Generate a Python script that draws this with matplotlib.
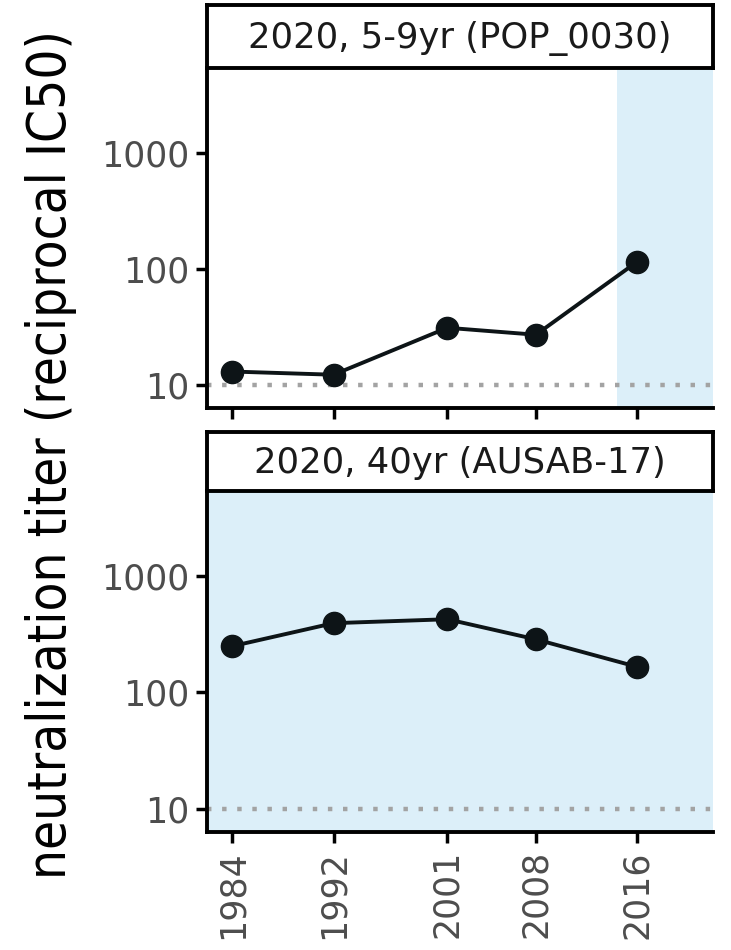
import matplotlib
matplotlib.use("Agg")
import matplotlib.pyplot as plt
from matplotlib import font_manager
from matplotlib.font_manager import FontProperties

# ---- data ----
years = [1984, 1992, 2001, 2008, 2016]
titer_pop0030 = [13, 12.2, 31, 27, 115]
titer_ausab17 = [250, 394, 426, 286, 166]
panel_titles = ["2020, 5-9yr (POP_0030)", "2020, 40yr (AUSAB-17)"]
# shaded x-ranges (years) per panel
shade_ranges = [(2014.4, 2022), (1982, 2022)]
limit_of_detection = 10
y_ticks = [10, 100, 1000]

XLIM = (1982, 2022)
YLIM = (6.3, 5400)
SHADE = "#dceff9"
INK = "#0d1417"


def narrow_font():
    # prefer a narrow/condensed sans for the y label, fall back to DejaVu
    files = [f.fname for f in font_manager.fontManager.ttflist]
    for key in ("LiberationSansNarrow-Regular", "DejaVuSansCondensed.",
                "RobotoCondensed-Regular", "Roboto_Condensed-Regular",
                "OpenSans_Condensed-Regular", "OpenSansCondensed"):
        for fn in files:
            if key in fn.replace(" ", ""):
                return FontProperties(fname=fn)
    return FontProperties(family="DejaVu Sans", stretch="condensed")


fig = plt.figure(figsize=(7.31, 9.5), dpi=100)
L, R = 207 / 731, 713 / 731
panels = [(68, 408, 5), (491, 832, 432)]   # axes top, axes bottom, strip top (px)

for i, ((top, bot, stop), vals) in enumerate(zip(panels, [titer_pop0030, titer_ausab17])):
    ax = fig.add_axes([L, 1 - bot / 950, R - L, (bot - top) / 950])
    sax = fig.add_axes([L, 1 - top / 950, R - L, (top - stop) / 950])

    lo, hi = shade_ranges[i]
    ax.axvspan(lo, hi, color=SHADE, lw=0, zorder=0)
    ax.axhline(limit_of_detection, color="#a3a3a3", lw=3.2,
               linestyle=(0, (1.0, 2.4)), zorder=1)
    ax.plot(years, vals, color=INK, lw=2.8, marker="o", ms=16, zorder=3)

    ax.set_yscale("log")
    ax.set_xlim(*XLIM)
    ax.set_ylim(*YLIM)
    ax.set_yticks(y_ticks)
    ax.set_yticklabels([str(t) for t in y_ticks])
    ax.minorticks_off()
    ax.set_xticks(years)
    if i == 0:
        ax.set_xticklabels([])
        ax.tick_params(axis="x", length=0)
    else:
        ax.set_xticklabels([str(y) for y in years], rotation=90)
    for s in ("top", "right"):
        ax.spines[s].set_visible(False)
    for s in ("left", "bottom"):
        ax.spines[s].set_linewidth(2.8)
        ax.spines[s].set_color("black")
    ax.tick_params(axis="both", width=2.5, length=8, color="black",
                   labelsize=25, labelcolor="#4d4d4d", pad=5)

    sax.set_xticks([])
    sax.set_yticks([])
    sax.set_facecolor("white")
    for s in sax.spines.values():
        s.set_linewidth(2.8)
        s.set_color("black")
    sax.text(0.5, 0.47, panel_titles[i], ha="center", va="center",
             fontsize=25.5, color="#1a1a1a", transform=sax.transAxes)

fp = narrow_font()
fp.set_size(38)
fig.text(0.07, 0.522, "neutralization titer (reciprocal IC50)", rotation=90,
         ha="center", va="center", fontproperties=fp, color="black")

fig.savefig("out.png", dpi=100)
